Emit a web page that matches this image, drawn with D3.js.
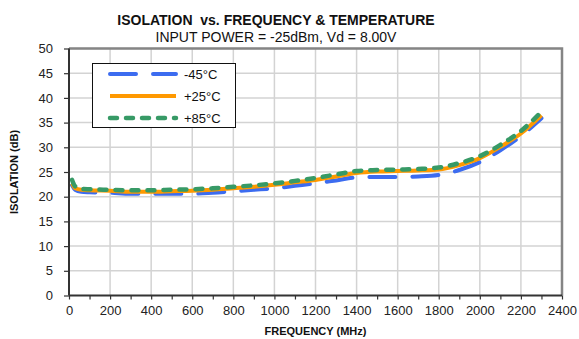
<!DOCTYPE html>
<html>
<head>
<meta charset="utf-8">
<script src="https://cdn.jsdelivr.net/npm/d3@7"></script>
<style>
  html, body { margin: 0; padding: 0; background: #fff; }
  svg { display: block; font-family: Arial, "Liberation Sans", sans-serif; }
  .keep-spaces { white-space: pre; }
</style>
</head>
<body>
<svg id="chart" width="579" height="339"></svg>
<script>
// Isolation (dB) vs frequency (MHz) at three temperatures
const freqs   = [15, 30, 60, 100, 200, 300, 400, 500, 600, 700, 800, 900, 1000, 1100, 1200, 1300, 1400, 1500, 1600, 1700, 1800, 1900, 2000, 2100, 2200, 2300];
const isoM45  = [22.3, 21.4, 21.0, 20.9, 20.8, 20.6, 20.6, 20.6, 20.6, 20.8, 21.1, 21.4, 21.7, 22.2, 22.7, 23.3, 23.9, 24.0, 24.0, 24.1, 24.4, 25.4, 27.0, 29.4, 32.3, 35.9];
const isoP25  = [22.7, 21.7, 21.4, 21.3, 21.2, 21.0, 21.0, 21.1, 21.2, 21.4, 21.7, 22.0, 22.4, 22.9, 23.4, 24.1, 24.8, 25.1, 25.2, 25.3, 25.5, 26.4, 27.8, 30.1, 32.8, 36.5];
const isoP85  = [23.4, 22.1, 21.6, 21.5, 21.4, 21.3, 21.3, 21.4, 21.5, 21.7, 22.0, 22.3, 22.7, 23.2, 23.8, 24.5, 25.2, 25.4, 25.5, 25.6, 25.9, 26.8, 28.2, 30.5, 33.3, 37.2];
const seriesNames = ["-45°C", "+25°C", "+85°C"];
const xTicks = d3.range(0, 2401, 200);
const yTicks = d3.range(0, 51, 5);

const title = "ISOLATION  vs. FREQUENCY & TEMPERATURE";
const subtitle = "INPUT POWER = -25dBm, Vd = 8.00V";
const xTitle = "FREQUENCY (MHz)";
const yTitle = "ISOLATION (dB)";

const styles = [
  { color: "#3c6cf0", width: 4, dash: "26,17", cap: "round" },
  { color: "#ff9900", width: 4, dash: null,    cap: "butt" },
  { color: "#379a66", width: 4.5, dash: "7,9", cap: "round" }
];
const seriesVals = [isoM45, isoP25, isoP85];

const svg = d3.select("#chart");
const plot = { left: 69, right: 562, top: 48.5, bottom: 295.5 };

const x = d3.scaleLinear().domain([0, 2400]).range([plot.left, plot.right]);
const y = d3.scaleLinear().domain([0, 50]).range([plot.bottom, plot.top]);

// grid
const grid = svg.append("g");
grid.selectAll("line.v").data(xTicks.slice(1)).join("line")
  .attr("x1", d => x(d)).attr("x2", d => x(d))
  .attr("y1", plot.top).attr("y2", plot.bottom)
  .attr("stroke", "#d3d3d3").attr("stroke-width", 1.5);
grid.selectAll("line.h").data(yTicks.slice(1)).join("line")
  .attr("x1", plot.left).attr("x2", plot.right)
  .attr("y1", d => y(d)).attr("y2", d => y(d))
  .attr("stroke", "#d3d3d3").attr("stroke-width", 1.5);

// frame top/right
svg.append("path")
  .attr("d", `M${plot.left},${plot.top}H${plot.right}V${plot.bottom}`)
  .attr("fill", "none").attr("stroke", "#858585").attr("stroke-width", 2.5);

// series
const line = d3.line().x((d, i) => x(freqs[i])).y(d => y(d)).curve(d3.curveMonotoneX);
seriesVals.forEach((vals, k) => {
  const s = styles[k];
  svg.append("path")
    .datum(vals)
    .attr("d", line)
    .attr("fill", "none")
    .attr("stroke", s.color)
    .attr("stroke-width", s.width)
    .attr("stroke-linecap", s.cap)
    .attr("stroke-linejoin", "round")
    .attr("stroke-dasharray", s.dash);
});

// axes
const xAxis = d3.axisBottom(x).tickValues(d3.range(0, 2401, 100))
  .tickSize(4).tickFormat(d => d % 200 === 0 ? d : "");
const gx = svg.append("g").attr("transform", `translate(0,${plot.bottom})`).call(xAxis);
gx.select(".domain").attr("stroke", "#333").attr("stroke-width", 2).attr("d", `M${plot.left},0H${plot.right}`);
gx.selectAll(".tick line").attr("stroke", "#333").attr("stroke-width", 1.2);
gx.selectAll(".tick text").attr("font-size", 13).attr("fill", "#222").attr("font-family", "Arial, 'Liberation Sans', sans-serif").attr("dy", "0.95em");

const yAxis = d3.axisLeft(y).tickValues(yTicks).tickSize(5).tickPadding(11);
const gy = svg.append("g").attr("transform", `translate(${plot.left},0)`).call(yAxis);
gy.select(".domain").attr("stroke", "#333").attr("stroke-width", 2).attr("d", `M0,${plot.top}V${plot.bottom}`);
gy.selectAll(".tick line").attr("stroke", "#333").attr("stroke-width", 1.2);
gy.selectAll(".tick text").attr("font-size", 13).attr("fill", "#222").attr("font-family", "Arial, 'Liberation Sans', sans-serif");

// titles
svg.append("text").attr("class", "keep-spaces").attr("x", 276).attr("y", 25).attr("text-anchor", "middle")
  .attr("font-size", 14).attr("font-weight", "bold").attr("fill", "#111").text(title);
svg.append("text").attr("x", 276).attr("y", 42).attr("text-anchor", "middle")
  .attr("font-size", 14).attr("fill", "#111").text(subtitle);
svg.append("text").attr("x", (plot.left + plot.right) / 2).attr("y", 335).attr("text-anchor", "middle")
  .attr("font-size", 11).attr("font-weight", "bold").attr("fill", "#111").text(xTitle);
svg.append("text").attr("transform", `translate(18,${(plot.top + plot.bottom) / 2}) rotate(-90)`)
  .attr("text-anchor", "middle").attr("font-size", 11).attr("font-weight", "bold").attr("fill", "#111").text(yTitle);

// legend
const lg = svg.append("g");
lg.append("rect").attr("x", 92.5).attr("y", 63.5).attr("width", 143).attr("height", 64)
  .attr("fill", "#fff").attr("stroke", "#111").attr("stroke-width", 1);
seriesNames.forEach((name, k) => {
  const s = styles[k];
  const yy = 74 + k * 22;
  lg.append("line").attr("x1", 110).attr("x2", 176).attr("y1", yy).attr("y2", yy)
    .attr("stroke", s.color).attr("stroke-width", s.width)
    .attr("stroke-linecap", s.cap).attr("stroke-dasharray", s.dash);
  lg.append("text").attr("x", 184).attr("y", yy + 5).attr("font-size", 13).attr("fill", "#111").text(name);
});
</script>
</body>
</html>
